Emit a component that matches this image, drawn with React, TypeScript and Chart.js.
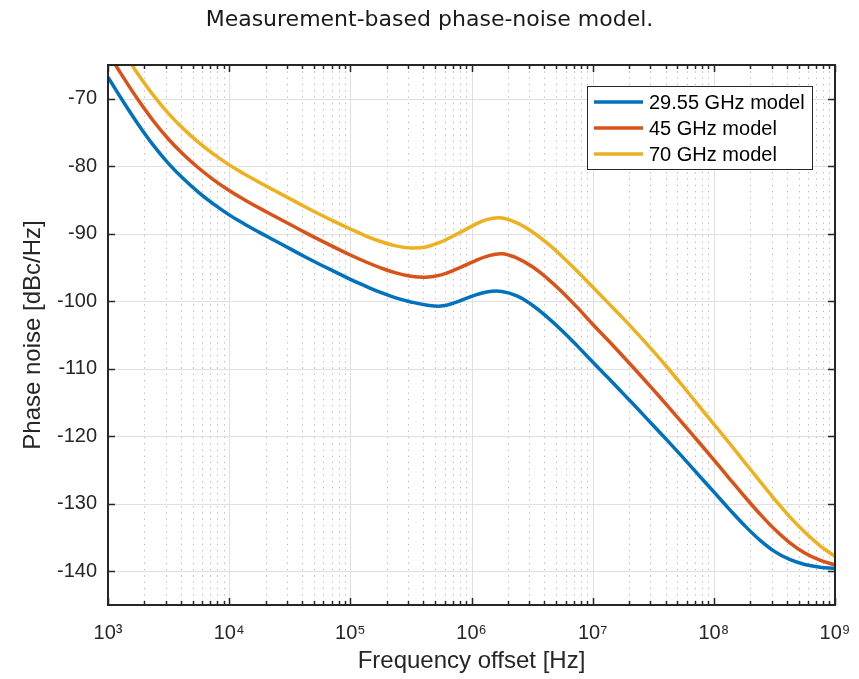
import React, { useEffect, useRef } from "react";
import { Chart, registerables } from "chart.js";

Chart.register(...registerables);

// Frequency offsets (Hz) at which the curves were read (8 per decade)
const freqHz = [
  1e3, 1.334e3, 1.778e3, 2.371e3, 3.162e3, 4.217e3, 5.623e3, 7.499e3,
  1e4, 1.334e4, 1.778e4, 2.371e4, 3.162e4, 4.217e4, 5.623e4, 7.499e4,
  1e5, 1.334e5, 1.778e5, 2.371e5, 3.162e5, 4.217e5, 5.623e5, 7.499e5,
  1e6, 1.334e6, 1.778e6, 2.371e6, 3.162e6, 4.217e6, 5.623e6, 7.499e6,
  1e7, 1.334e7, 1.778e7, 2.371e7, 3.162e7, 4.217e7, 5.623e7, 7.499e7,
  1e8, 1.334e8, 1.778e8, 2.371e8, 3.162e8, 4.217e8, 5.623e8, 7.499e8,
  1e9,
];

// Phase noise values (dBc/Hz)
const model2955 = [
  -66.8, -70.4, -73.8, -76.9, -79.6, -81.9, -83.9, -85.65,
  -87.2, -88.55, -89.8, -91.0, -92.2, -93.4, -94.55, -95.65,
  -96.75, -97.75, -98.7, -99.5, -100.1, -100.55, -100.72, -100.13,
  -99.27, -98.62, -98.55, -99.2, -100.55, -102.35, -104.4, -106.65,
  -109.0, -111.3, -113.65, -116.0, -118.4, -120.8, -123.25, -125.75,
  -128.25, -130.75, -133.15, -135.3, -137.05, -138.25, -139.0, -139.4,
  -139.6,
];
const model45 = [
  -63.2, -66.8, -70.2, -73.3, -76.0, -78.3, -80.3, -82.05,
  -83.6, -84.95, -86.2, -87.4, -88.6, -89.8, -90.95, -92.05,
  -93.15, -94.15, -95.05, -95.8, -96.3, -96.45, -96.1, -95.25,
  -94.25, -93.35, -92.95, -93.6, -94.85, -96.6, -98.65, -100.95,
  -103.4, -105.75, -108.15, -110.6, -113.1, -115.65, -118.25, -120.85,
  -123.5, -126.2, -128.85, -131.4, -133.75, -135.75, -137.3, -138.35,
  -139.05,
];
const model70 = [
  -59.4, -63.0, -66.4, -69.5, -72.2, -74.5, -76.5, -78.25,
  -79.8, -81.15, -82.4, -83.6, -84.8, -86.0, -87.15, -88.25,
  -89.3, -90.3, -91.15, -91.8, -92.1, -91.95, -91.2, -90.1,
  -88.9, -87.9, -87.65, -88.4, -89.7, -91.4, -93.4, -95.6,
  -97.9, -100.2, -102.5, -104.9, -107.4, -110.0, -112.7, -115.45,
  -118.2, -120.95, -123.75, -126.55, -129.3, -131.9, -134.2, -136.2,
  -137.8,
];

const seriesLabels = ["29.55 GHz model", "45 GHz model", "70 GHz model"];
const seriesColors = ["#0072BD", "#D95319", "#EDB120"];

const yTicks = [-140, -130, -120, -110, -100, -90, -80, -70];
const xTicks = [1e3, 1e4, 1e5, 1e6, 1e7, 1e8, 1e9];
const xTickLabels = ["10³", "10⁴", "10⁵", "10⁶", "10⁷", "10⁸", "10⁹"];

const titleText = "Measurement-based phase-noise model.";
const xTitle = "Frequency offset [Hz]";
const yTitle = "Phase noise [dBc/Hz]";

const FONT = "'Liberation Sans', Arial, Helvetica, sans-serif";
const TITLE_FONT = "'DejaVu Sans', 'Liberation Sans', sans-serif";
const TEXT = "#262626";

const gridPlugin = {
  id: "matlabGrid",
  beforeDatasetsDraw(chart: any) {
    const { ctx, chartArea, scales } = chart;
    const { left, right, top, bottom } = chartArea;
    const xs = scales.x;
    const ys = scales.y;
    ctx.save();
    ctx.beginPath();
    ctx.rect(left, top, right - left, bottom - top);
    ctx.clip();
    // minor dotted vertical grid
    ctx.strokeStyle = "rgba(0,0,0,0.28)";
    ctx.lineWidth = 1;
    ctx.setLineDash([1.3, 5]);
    for (let d = 0; d < xTicks.length - 1; d++) {
      for (let m = 2; m <= 9; m++) {
        const px = Math.round(xs.getPixelForValue(xTicks[d] * m)) + 0.5;
        ctx.beginPath();
        ctx.moveTo(px, top);
        ctx.lineTo(px, bottom);
        ctx.stroke();
      }
    }
    ctx.setLineDash([]);
    ctx.strokeStyle = "#e0e0e0";
    for (const v of xTicks) {
      const px = Math.round(xs.getPixelForValue(v)) + 0.5;
      ctx.beginPath();
      ctx.moveTo(px, top);
      ctx.lineTo(px, bottom);
      ctx.stroke();
    }
    for (const v of yTicks) {
      const py = Math.round(ys.getPixelForValue(v)) + 0.5;
      ctx.beginPath();
      ctx.moveTo(left, py);
      ctx.lineTo(right, py);
      ctx.stroke();
    }
    ctx.restore();
  },
  afterDatasetsDraw(chart: any) {
    const { ctx, chartArea, scales } = chart;
    const { left, right, top, bottom } = chartArea;
    const xs = scales.x;
    const ys = scales.y;
    ctx.save();
    ctx.strokeStyle = TEXT;
    ctx.lineWidth = 1.5;
    const major = 7;
    const minor = 4;
    ctx.beginPath();
    for (const v of yTicks) {
      const py = Math.round(ys.getPixelForValue(v)) + 0.5;
      ctx.moveTo(left, py);
      ctx.lineTo(left + major, py);
      ctx.moveTo(right, py);
      ctx.lineTo(right - major, py);
    }
    for (let d = 0; d < xTicks.length; d++) {
      const px = Math.round(xs.getPixelForValue(xTicks[d])) + 0.5;
      ctx.moveTo(px, bottom);
      ctx.lineTo(px, bottom - major);
      ctx.moveTo(px, top);
      ctx.lineTo(px, top + major);
      if (d < xTicks.length - 1) {
        for (let m = 2; m <= 9; m++) {
          const pm = Math.round(xs.getPixelForValue(xTicks[d] * m)) + 0.5;
          ctx.moveTo(pm, bottom);
          ctx.lineTo(pm, bottom - minor);
          ctx.moveTo(pm, top);
          ctx.lineTo(pm, top + minor);
        }
      }
    }
    ctx.stroke();
    ctx.lineWidth = 2;
    ctx.strokeRect(left, top, right - left, bottom - top);
    ctx.restore();
  },
  afterDraw(chart: any) {
    const { ctx, chartArea, width } = chart;
    const { right, top } = chartArea;
    ctx.save();
    // title
    ctx.fillStyle = "#1a1a1a";
    ctx.font = `22px ${TITLE_FONT}`;
    ctx.textAlign = "center";
    ctx.textBaseline = "middle";
    ctx.fillText(titleText, width / 2, 20);
    // legend
    const bx = right - 248;
    const by = top + 21;
    const bw = 225;
    const bh = 83;
    ctx.fillStyle = "#ffffff";
    ctx.fillRect(bx, by, bw, bh);
    ctx.strokeStyle = "#262626";
    ctx.lineWidth = 1;
    ctx.strokeRect(bx + 0.5, by + 0.5, bw, bh);
    ctx.font = `20px ${FONT}`;
    ctx.textAlign = "left";
    ctx.textBaseline = "middle";
    chart.data.datasets.forEach((ds: any, i: number) => {
      const ry = by + 16 + i * 26;
      ctx.strokeStyle = ds.borderColor;
      ctx.lineWidth = 3.5;
      ctx.beginPath();
      ctx.moveTo(bx + 7, ry);
      ctx.lineTo(bx + 56, ry);
      ctx.stroke();
      ctx.fillStyle = "#000000";
      ctx.fillText(ds.label, bx + 62, ry + 1);
    });
    ctx.restore();
  },
};

export default function App() {
  const ref = useRef<HTMLCanvasElement | null>(null);

  useEffect(() => {
    document.body.style.margin = "0";
    const canvas = ref.current;
    if (!canvas) return;
    const seriesValues = [model2955, model45, model70];
    const chart = new Chart(canvas, {
      type: "line",
      data: {
        datasets: seriesValues.map((vals, i) => ({
          label: seriesLabels[i],
          data: freqHz.map((f, k) => ({ x: f, y: vals[k] })),
          borderColor: seriesColors[i],
          backgroundColor: seriesColors[i],
          borderWidth: 3.5,
          pointRadius: 0,
          fill: false,
          tension: 0.4,
          clip: 0,
        })),
      },
      options: {
        responsive: false,
        animation: false,
        events: [],
        layout: { padding: { top: 65, right: 24, left: 0, bottom: 0 } },
        plugins: {
          legend: { display: false },
          title: { display: false },
          tooltip: { enabled: false },
        },
        scales: {
          x: {
            type: "logarithmic",
            min: 1e3,
            max: 1e9,
            grid: { display: false, drawTicks: false },
            border: { display: false },
            afterBuildTicks: (s: any) => {
              s.ticks = xTicks.map((v) => ({ value: v }));
            },
            afterFit: (s: any) => {
              s.height = 74;
              s.paddingLeft = 0;
              s.paddingRight = 0;
            },
            ticks: {
              autoSkip: false,
              maxRotation: 0,
              padding: 16,
              color: TEXT,
              font: { family: FONT, size: 20 },
              callback: (v: any) => {
                const i = xTicks.indexOf(Number(v));
                return i >= 0 ? xTickLabels[i] : "";
              },
            },
            title: {
              display: true,
              text: xTitle,
              color: TEXT,
              font: { family: FONT, size: 24 },
              padding: { top: 0, bottom: 3 },
            },
          },
          y: {
            type: "linear",
            min: -145,
            max: -65,
            grid: { display: false, drawTicks: false },
            border: { display: false },
            afterBuildTicks: (s: any) => {
              s.ticks = yTicks.map((v) => ({ value: v }));
            },
            afterFit: (s: any) => {
              s.width = 108;
              s.paddingTop = 0;
              s.paddingBottom = 0;
            },
            ticks: {
              autoSkip: false,
              padding: 11,
              color: TEXT,
              font: { family: FONT, size: 20 },
            },
            title: {
              display: true,
              text: yTitle,
              color: TEXT,
              font: { family: FONT, size: 24 },
              padding: { top: 19, bottom: 0 },
            },
          },
        },
      },
      plugins: [gridPlugin],
    });
    return () => chart.destroy();
  }, []);

  return (
    <div style={{ width: 859, height: 679, background: "#ffffff" }}>
      <canvas ref={ref} width={859} height={679} style={{ display: "block" }} />
    </div>
  );
}
